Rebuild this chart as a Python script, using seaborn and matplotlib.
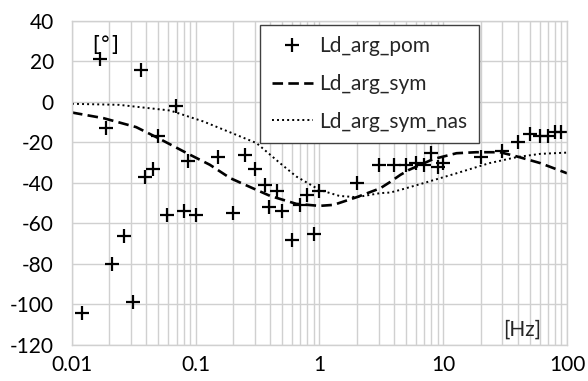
import numpy as np
import pandas as pd
import matplotlib
matplotlib.use("Agg")
import matplotlib.pyplot as plt
import seaborn as sns
from matplotlib.ticker import FixedLocator, FixedFormatter, LogLocator, NullFormatter

# measured points (Ld_arg_pom)
pom_f = [0.012, 0.0168, 0.019, 0.021, 0.0265, 0.031, 0.036, 0.039, 0.045, 0.05,
         0.059, 0.069, 0.081, 0.087, 0.1, 0.15, 0.2, 0.25, 0.3, 0.36, 0.39, 0.45,
         0.5, 0.6, 0.69, 0.79, 0.9, 1.0, 2.0, 3.0, 4.0, 5.0, 6.0, 7.0, 8.0, 9.0,
         10.0, 20.0, 30.0, 40.0, 50.0, 60.0, 70.0, 80.0, 90.0]
pom_v = [-104, 21, -13, -80, -66, -99, 16, -37, -33, -17,
         -56, -2, -54, -29, -56, -27, -55, -26, -33, -41, -52, -44,
         -54, -68, -51, -46, -65, -44, -40, -31, -31, -31, -30, -31, -25, -32,
         -30, -27, -24, -20, -16, -17, -17, -15, -15]

# model curve Ld_arg_sym
sym_f = [0.01, 0.018, 0.033, 0.05, 0.085, 0.13, 0.19, 0.275, 0.4, 0.65, 1.0,
         1.3, 2.0, 3.1, 3.7, 4.5, 5.3, 8.3, 12.8, 18.5, 28.7, 39.4, 61.0, 100.0]
sym_v = [-5.2, -8, -12.4, -17.9, -25.3, -31, -37.6, -42, -46.4, -50.3, -51.3,
         -50.8, -47, -42.6, -39.6, -36, -33.5, -28.2, -25.3, -24.8, -24.8, -26.9, -30.2, -35.2]

# model curve Ld_arg_sym_nas
nas_f = [0.01, 0.024, 0.062, 0.115, 0.19, 0.31, 0.48, 0.65, 1.0, 1.45, 2.0,
         3.1, 3.74, 4.5, 6.9, 12.8, 23.6, 39.4, 61.0, 100.0]
nas_v = [-0.9, -1.4, -4.2, -9.6, -15, -20.3, -30.2, -36.8, -43.4, -46.4, -47,
         -45, -44.7, -43.4, -40.1, -35.2, -30.2, -27.2, -25.6, -25]

x_ticks = [0.01, 0.1, 1, 10, 100]
x_labels = ["0.01", "0.1", "1", "10", "100"]
y_ticks = [-120, -100, -80, -60, -40, -20, 0, 20, 40]

sns.set_theme(style="white")
plt.rcParams['font.family'] = ['Lato', 'DejaVu Sans']

df_pom = pd.DataFrame({"f": pom_f, "v": pom_v})
df_sym = pd.DataFrame({"f": sym_f, "v": sym_v})
df_nas = pd.DataFrame({"f": nas_f, "v": nas_v})

FS = 15

fig = plt.figure(figsize=(5.88, 3.81), dpi=100)
ax = fig.add_axes([0.1224, 0.0945, 0.8419, 0.8504])
ax.set_xscale("log")

sns.lineplot(data=df_sym, x="f", y="v", ax=ax, color="black", linewidth=1.9,
             linestyle=(0, (4, 2)), label="Ld_arg_sym", sort=False)
sns.lineplot(data=df_nas, x="f", y="v", ax=ax, color="black", linewidth=1.4,
             linestyle=(0, (1, 1.6)), label="Ld_arg_sym_nas", sort=False)
ax.plot(df_pom["f"], df_pom["v"], linestyle="none", marker="+", markersize=10,
        markeredgewidth=1.6, color="black", label="Ld_arg_pom")

ax.set_xlim(0.01, 100)
ax.set_ylim(-120, 40)
ax.xaxis.set_major_locator(FixedLocator(x_ticks))
ax.xaxis.set_major_formatter(FixedFormatter(x_labels))
ax.xaxis.set_minor_locator(LogLocator(base=10, subs=np.arange(2, 10)))
ax.xaxis.set_minor_formatter(NullFormatter())
ax.set_yticks(y_ticks)
ax.set_yticklabels([str(t) for t in y_ticks])

ax.grid(True, which="major", axis="both", color="#d0d0d0", linewidth=1.0)
ax.grid(True, which="minor", axis="x", color="#d0d0d0", linewidth=1.0)
ax.set_axisbelow(True)
for s in ax.spines.values():
    s.set_color("#d0d0d0")
    s.set_linewidth(1.0)

ax.tick_params(axis="both", which="both", length=0, labelsize=FS, colors="black")
ax.tick_params(axis="y", pad=13)
ax.tick_params(axis="x", pad=7)
ax.set_xlabel("")
ax.set_ylabel("")

ax.text(0.040, 0.925, "[°]", transform=ax.transAxes, fontsize=FS, ha="left", va="center",
        family=['DejaVu Sans'], color="black")
ax.text(0.91, 0.046, "[Hz]", transform=ax.transAxes, fontsize=FS, ha="center", va="center")

handles, labels = ax.get_legend_handles_labels()
order = [labels.index(l) for l in ["Ld_arg_pom", "Ld_arg_sym", "Ld_arg_sym_nas"]]
leg = ax.legend([handles[i] for i in order], [labels[i] for i in order],
                loc="upper left", bbox_to_anchor=(0.38, 0.988), borderaxespad=0,
                fontsize=FS, frameon=True, fancybox=False, labelspacing=0.85,
                handlelength=2.0, handletextpad=0.3, borderpad=0.55)
leg.get_frame().set_edgecolor("#404040")
leg.get_frame().set_linewidth(1.0)
leg.get_frame().set_facecolor("white")
leg.get_frame().set_alpha(1.0)

fig.savefig("out.png", dpi=100)
